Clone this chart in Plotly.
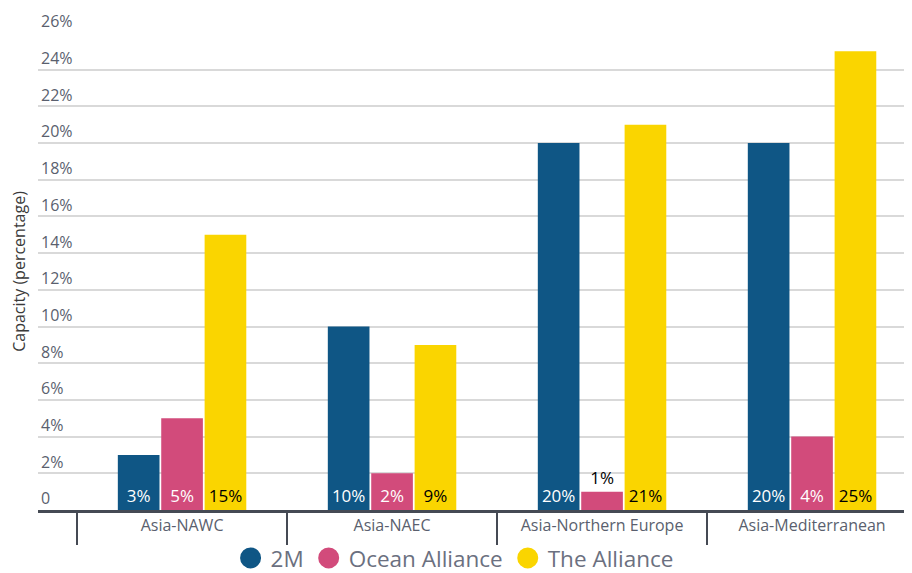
import plotly.graph_objects as go

categories = ["Asia-NAWC", "Asia-NAEC", "Asia-Northern Europe", "Asia-Mediterranean"]
series_names = ["2M", "Ocean Alliance", "The Alliance"]
values_2m = [3, 10, 20, 20]
values_ocean = [5, 2, 1, 4]
values_alliance = [15, 9, 21, 25]
colors = ["#0f5685", "#d24b7b", "#fad500"]
y_tickvals = list(range(0, 27, 2))
y_ticktext = ["0"] + [f"{v}%" for v in y_tickvals[1:]]

FONT = "Open Sans"
series_values = [values_2m, values_ocean, values_alliance]
text_colors = ["white", "white", "black"]

fig = go.Figure()
for name, vals, col, tcol in zip(series_names, series_values, colors, text_colors):
    positions = ["inside" if v >= 2 else "outside" for v in vals]
    fig.add_trace(go.Bar(
        x=categories, y=vals, name=name, marker=dict(color=col, line=dict(width=0)),
        text=[f"{v}%" for v in vals], textposition=positions,
        insidetextanchor="start", constraintext="none",
        insidetextfont=dict(color=tcol, size=17, family=FONT),
        outsidetextfont=dict(color="black", size=17, family=FONT),
        showlegend=False, cliponaxis=False,
    ))
    fig.add_trace(go.Scatter(
        x=[None], y=[None], mode="markers", name=name,
        marker=dict(color=col, size=16, symbol="circle", line=dict(color=col, width=5)),
        showlegend=True,
    ))

fig.update_layout(
    width=904, height=565,
    margin=dict(l=30, r=0, t=25, b=63),
    plot_bgcolor="white", paper_bgcolor="white",
    barmode="group", bargap=0.38, bargroupgap=0.04,
    font=dict(family=FONT, color="#5a5f6e", size=16),
    legend=dict(orientation="h", xref="container", yref="container",
                x=0.494, xanchor="center", y=0.026, yanchor="middle",
                font=dict(size=22.5, color="#6b7080", family=FONT),
                itemwidth=30, bgcolor="rgba(0,0,0,0)"),
)
fig.update_xaxes(
    range=[-0.686, 3.476], showgrid=False, showline=True, linecolor="#454a54", linewidth=3,
    ticks="outside", tickson="boundaries", ticklen=32, tickwidth=2, tickcolor="#454a54",
    ticklabelstandoff=-1, tickfont=dict(size=16, color="#5a5f6e"), automargin=False,
)
fig.update_yaxes(
    range=[0, 26], tickvals=y_tickvals, ticktext=y_ticktext,
    ticklabelposition="inside top", ticklabeloverflow="allow",
    showgrid=True, gridcolor="#d9d9d9", gridwidth=2, zeroline=False,
    tickfont=dict(size=16, color="#5a5f6e"), automargin=False,
    title=dict(text="Capacity (percentage)", font=dict(size=16, color="#3a3a3a"), standoff=14),
)

fig.write_html("out.html")
